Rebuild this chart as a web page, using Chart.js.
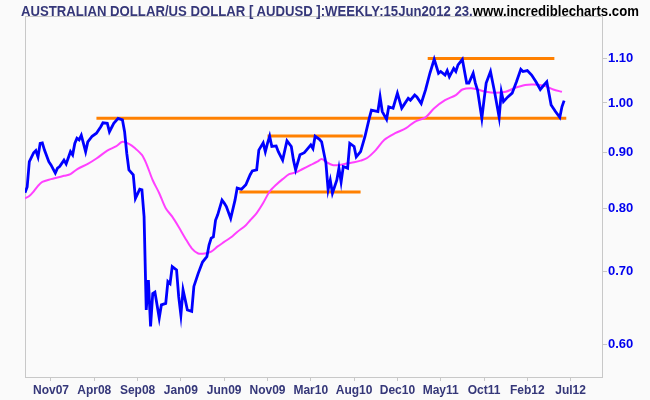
<!DOCTYPE html>
<html>
<head>
<meta charset="utf-8">
<script src="https://cdn.jsdelivr.net/npm/chart.js@4.4.1/dist/chart.umd.min.js"></script>
<style>
  html, body { margin:0; padding:0; background:#FAFAFA; }
  #wrap { position:relative; width:650px; height:400px; }
  #title { position:absolute; left:21px; top:3px; font:bold 14px "Liberation Sans",Arial,sans-serif; color:#353779; white-space:nowrap; transform-origin:0 0; }
  #title .site { color:#000; }
</style>
</head>
<body>
<div id="wrap">
  <canvas id="c" width="650" height="400"></canvas>
  <div id="title">AUSTRALIAN DOLLAR/US DOLLAR [ AUDUSD ]:WEEKLY:15Jun2012 23.<span class="site">www.incrediblecharts.com</span></div>
</div>
<script>
// Weekly AUD/USD close (week index 0 = mid Sep 2007, 249 = 15 Jun 2012)
const priceWeeks = [0,1,2,4,5,6,7,8,9,11,12,14,15,16,18,19,21,22,23,24,25,26,28,29,31,33,35,36,38,39,41,43,45,46,47,48,50,51,53,54,55,56,57,58,59,60,62,63,65,66,67,68,70,71,72,73,74,75,77,78,80,82,84,85,86,87,88,89,91,92,93,95,97,98,100,102,104,105,107,108,110,111,112,113,114,116,117,119,121,123,124,125,127,129,130,132,133,134,136,137,139,140,141,142,144,145,146,147,149,150,152,153,155,157,159,160,161,163,164,165,167,168,170,172,174,175,177,178,180,181,183,185,187,189,191,192,194,195,196,198,199,200,202,204,205,207,208,209,211,212,213,215,217,219,220,221,223,225,227,229,230,232,234,236,238,239,241,242,243,245,247,248,249];
const priceValues = [0.827,0.837,0.883,0.900,0.904,0.892,0.918,0.919,0.905,0.883,0.877,0.862,0.871,0.874,0.886,0.879,0.902,0.896,0.918,0.928,0.925,0.934,0.902,0.921,0.932,0.938,0.951,0.959,0.958,0.941,0.958,0.968,0.965,0.941,0.899,0.868,0.859,0.817,0.833,0.832,0.786,0.645,0.687,0.623,0.668,0.670,0.634,0.652,0.654,0.685,0.682,0.707,0.702,0.663,0.638,0.673,0.659,0.645,0.643,0.678,0.697,0.714,0.722,0.740,0.751,0.753,0.780,0.789,0.814,0.809,0.803,0.783,0.814,0.835,0.833,0.841,0.859,0.866,0.868,0.905,0.919,0.902,0.918,0.932,0.912,0.913,0.902,0.886,0.923,0.912,0.886,0.868,0.896,0.900,0.905,0.915,0.908,0.932,0.926,0.921,0.880,0.832,0.849,0.826,0.849,0.871,0.846,0.874,0.871,0.918,0.912,0.892,0.902,0.931,0.968,0.985,0.984,0.982,1.013,0.982,0.966,0.992,0.989,1.021,0.989,0.996,1.010,1.006,1.017,1.013,0.999,1.028,1.065,1.097,1.065,1.069,1.061,1.071,1.057,1.076,1.069,1.084,1.097,1.043,1.043,1.065,1.043,1.028,0.968,1.006,1.043,1.069,1.021,0.970,1.024,1.003,1.013,1.021,1.046,1.074,1.069,1.071,1.061,1.046,1.029,1.035,1.046,1.021,0.996,0.982,0.970,0.992,1.005];

// Moving average
const maWeeks = [0,2,4,6,8,12,15,18,21,24,29,33,38,42,45,48,51,54,56,59,62,65,68,71,74,77,80,83,86,89,92,95,98,102,104,107,110,113,116,119,122,125,128,132,135,137,139,142,145,149,152,155,158,162,166,171,176,180,185,189,194,199,202,206,209,213,217,222,226,231,235,240,244,248];
const maValues = [0.817,0.821,0.829,0.839,0.846,0.851,0.854,0.857,0.860,0.869,0.879,0.889,0.904,0.912,0.921,0.917,0.908,0.896,0.880,0.849,0.826,0.800,0.786,0.769,0.751,0.735,0.727,0.727,0.730,0.738,0.745,0.752,0.761,0.772,0.780,0.792,0.809,0.829,0.841,0.851,0.860,0.863,0.869,0.877,0.883,0.888,0.883,0.877,0.877,0.880,0.882,0.885,0.890,0.905,0.925,0.938,0.948,0.961,0.970,0.989,1.006,1.017,1.029,1.032,1.029,1.024,1.022,1.024,1.032,1.039,1.040,1.037,1.029,1.024];

// Support / resistance levels
const levelValues = [0.968, 1.099, 0.9325, 0.828];
const levelFrom   = [33, 186, 112, 99];
const levelTo     = [250, 244.5, 156, 155];

// X axis tick labels
const tickWeeks  = [12,32,52,72,92,112,132,152,172,192,212,232,252];
const tickLabels = ["Nov07","Apr08","Sep08","Jan09","Jun09","Nov09","Mar10","Aug10","Dec10","May11","Oct11","Feb12","Jul12"];

// Y axis ticks
const yTicks = [0.60,0.70,0.80,0.90,1.00,1.10];

// fit title to the reference width (x 21 .. 639)
(function(){
  const t = document.getElementById('title');
  const w = t.scrollWidth;
  t.style.transform = 'scaleX(' + (618 / w) + ')';
})();

const datasets = [];
datasets.push({
  data: priceWeeks.map((w,i)=>({x:w,y:priceValues[i]})),
  borderColor:'#0000FF', borderWidth:2.8, pointRadius:0, tension:0
});
datasets.push({
  data: maWeeks.map((w,i)=>({x:w,y:maValues[i]})),
  borderColor:'#FF40FF', borderWidth:2, pointRadius:0, tension:0.3
});
levelValues.forEach((v,i)=>{
  datasets.push({
    data:[{x:levelFrom[i],y:v},{x:levelTo[i],y:v}],
    borderColor:'#FF8000', borderWidth:3, pointRadius:0
  });
});

const framePlugin = {
  id:'frame',
  beforeDraw(chart){
    const {ctx, chartArea:a} = chart;
    ctx.save();
    ctx.fillStyle='#FAFAFA';
    ctx.fillRect(0,0,chart.width,chart.height);
    ctx.strokeStyle='#C8C8C8';
    ctx.lineWidth=1;
    ctx.strokeRect(Math.round(a.left)+0.5, Math.round(a.top)+0.5, Math.round(a.right-a.left), Math.round(a.bottom-a.top));
    ctx.restore();
  }
};

new Chart(document.getElementById('c'), {
  type:'line',
  data:{datasets},
  plugins:[framePlugin],
  options:{
    responsive:false,
    animation:false,
    events:[],
    layout:{padding:{left:25, top:16, right:0, bottom:0}},
    plugins:{legend:{display:false}, tooltip:{enabled:false}, title:{display:false}},
    scales:{
      x:{
        type:'linear', min:0, max:266.5,
        afterFit(s){ s.height = 23; },
        afterBuildTicks(s){ s.ticks = tickWeeks.map(v=>({value:v})); },
        grid:{drawOnChartArea:false, drawTicks:true, tickLength:4, color:'#C8C8C8'},
        border:{display:true, color:'#C8C8C8'},
        ticks:{
          autoSkip:false, maxRotation:0, padding:2,
          color:'#353779',
          font:{family:'"Liberation Sans",Arial,sans-serif', size:12, weight:'bold'},
          callback:(v,i)=>tickLabels[i]
        }
      },
      y:{
        type:'logarithmic', position:'right', min:0.5596, max:1.2024,
        afterFit(s){ s.width = 48; },
        afterBuildTicks(s){ s.ticks = yTicks.map(v=>({value:v})); },
        grid:{drawOnChartArea:false, drawTicks:true, tickLength:5, color:'#C8C8C8'},
        border:{display:true, color:'#C8C8C8'},
        ticks:{
          padding:1, color:'#0000EE',
          font:{family:'"Liberation Sans",Arial,sans-serif', size:13, weight:'bold'},
          callback:(v)=>Number(v).toFixed(2)
        }
      }
    }
  }
});
</script>
</body>
</html>
